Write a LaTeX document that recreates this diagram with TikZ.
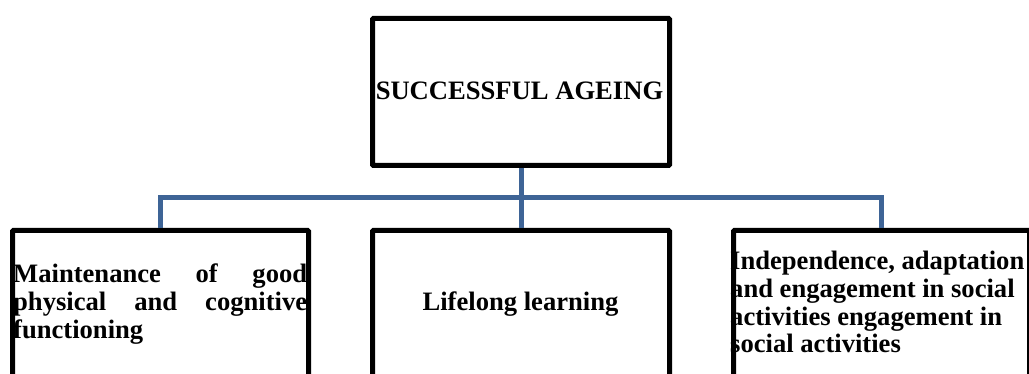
\documentclass[tikz,border=0pt]{standalone}
\usepackage{fontspec}
\setmainfont{Liberation Serif}
\definecolor{connblue}{RGB}{62,100,150}
\begin{document}
\begin{tikzpicture}[x=1pt,y=-1pt,
  box/.style={draw=black,line width=5pt,rounded corners=1pt,inner sep=0pt,fill=none},
  conn/.style={draw=connblue,line width=5pt,line join=miter},
  label/.style={inner sep=0pt,font=\fontsize{26.6}{27.6}\selectfont\bfseries}]
\useasboundingbox (0,0) rectangle (1029,374);
\begin{scope}
\clip (0,0) rectangle (1029,374);
\node[box,minimum width=297pt,minimum height=147pt] (top) at (521,92) {};
\node[box,minimum width=296pt,minimum height=200pt] (L) at (160.5,330.5) {};
\node[box,minimum width=297pt,minimum height=200pt] (M) at (521,330.5) {};
\node[box,minimum width=296pt,minimum height=200pt] (R) at (881.5,330.5) {};
\coordinate (bus) at (521,198);
\draw[conn] (top.south) -- (bus);
\draw[conn] (bus) -- (M.north);
\draw[conn] (L.north) |- (bus) -| (R.north);
\end{scope}
\node[label,anchor=base] (tt) at (519.5,100) {SUCCESSFUL AGEING};
\node[label,anchor=base] (mt) at (520.5,311) {Lifelong learning};
\node[label,anchor=base west,text width=296pt,align=left] (lt) at (13,283)
  {\leavevmode\hbox to 294pt{Maintenance\hfill of\hfill good}\\
   \leavevmode\hbox to 294pt{physical\hfill and\hfill cognitive}\\
   functioning};
\node[label,anchor=base west,text width=300pt,align=left] (rt) at (730,270)
  {\spaceskip=0pt\xspaceskip=0pt
   Independence, adaptation\\
   and engagement in social\\
   activities engagement in\\
   social activities};
\end{tikzpicture}
\end{document}
